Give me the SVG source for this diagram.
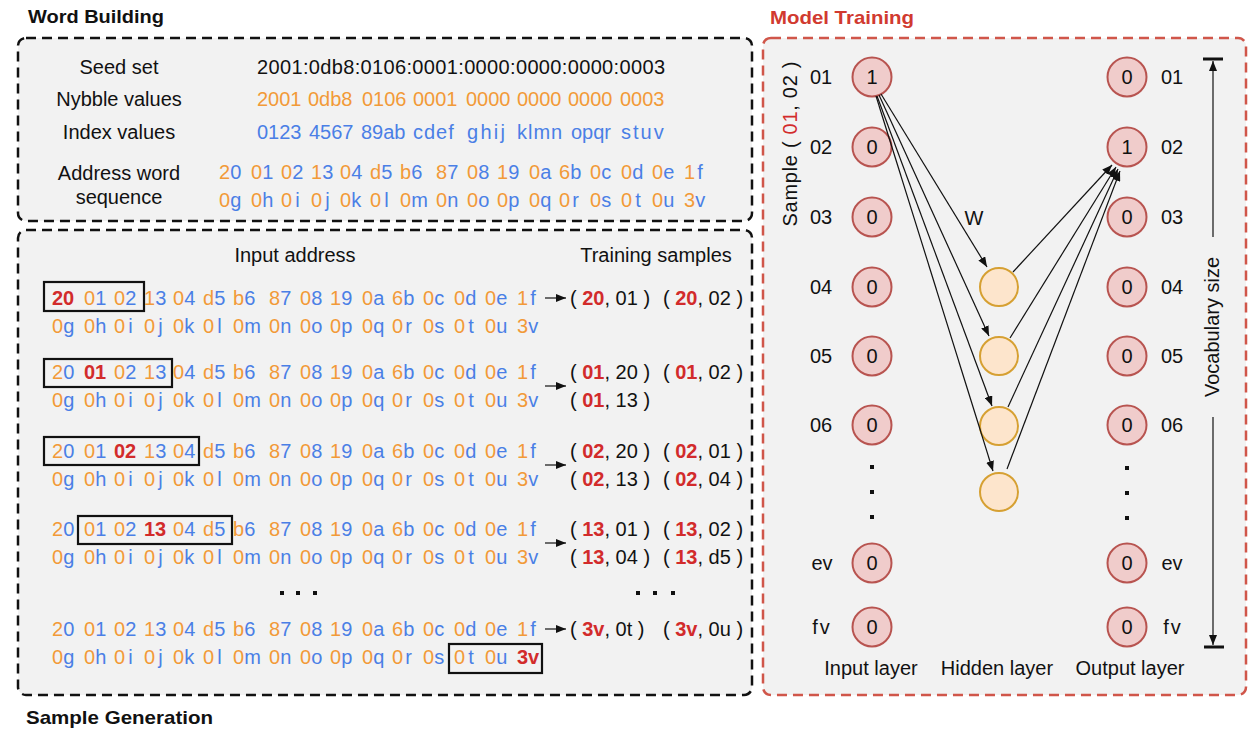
<svg xmlns="http://www.w3.org/2000/svg" width="1251" height="729" viewBox="0 0 1251 729">
<style>
text{font-family:"Liberation Sans",Arial,Helvetica,sans-serif;font-size:20px;fill:#111}
.t{font-weight:bold;font-size:19px}
.o{fill:#f29a38}
.b{fill:#4a7fe6}
.r{fill:#d22b2b;font-weight:bold}
.rr{fill:#d22b2b}
.m{text-anchor:middle}
.panel{fill:#f2f2f2;stroke:#111;stroke-width:2.5;stroke-dasharray:10 6}
.panelr{fill:#f2f2f2;stroke:#d0564a;stroke-width:2.5;stroke-dasharray:10 6}
.box{fill:none;stroke:#111;stroke-width:2.2}
.in{fill:#f0cccb;stroke:#b85450;stroke-width:2}
.hid{fill:#fde5cc;stroke:#d6a032;stroke-width:2}
.edge{stroke:#111;stroke-width:1.2;fill:none;marker-end:url(#ah)}
.dot{fill:#111}
</style>
<defs>
<marker id="ah" viewBox="0 0 10 8" refX="10" refY="4" markerWidth="10" markerHeight="8" markerUnits="userSpaceOnUse" orient="auto"><path d="M0,0 L10,4 L0,8 z" fill="#111"/></marker>
</defs>
<rect width="1251" height="729" fill="#ffffff"/>

<!-- Word Building panel -->
<g id="word-building">
<text class="t" x="28" y="23" textLength="136" lengthAdjust="spacingAndGlyphs">Word Building</text>
<rect class="panel" x="18" y="38" width="734" height="183" rx="8"/>
<text class="m" x="119" y="74">Seed set</text>
<text class="m" x="119" y="106">Nybble values</text>
<text class="m" x="119" y="139">Index values</text>
<text class="m" x="119" y="180">Address word</text>
<text class="m" x="119" y="204">sequence</text>
<text x="257" y="74" textLength="408">2001:0db8:0106:0001:0000:0000:0000:0003</text>
<text class="o" y="106"><tspan x="257">2001</tspan><tspan x="308">0db8</tspan><tspan x="362">0106</tspan><tspan x="413">0001</tspan><tspan x="466">0000</tspan><tspan x="517">0000</tspan><tspan x="568">0000</tspan><tspan x="620">0003</tspan></text>
<text class="b" y="139"><tspan x="257">0123</tspan><tspan x="309">4567</tspan><tspan x="361">89ab</tspan><tspan x="413" letter-spacing="1">cdef</tspan><tspan x="467" letter-spacing="2.3">ghij</tspan><tspan x="517" letter-spacing="1">klmn</tspan><tspan x="571">opqr</tspan><tspan x="621" letter-spacing="2">stuv</tspan></text>
<text y="179"><tspan x="219" class="o">2</tspan><tspan class="b">0</tspan><tspan x="251" class="o">0</tspan><tspan class="b">1</tspan><tspan x="281" class="o">0</tspan><tspan class="b">2</tspan><tspan x="311" class="o">1</tspan><tspan class="b">3</tspan><tspan x="340" class="o">0</tspan><tspan class="b">4</tspan><tspan x="370" class="o">d</tspan><tspan class="b">5</tspan><tspan x="400" class="o">b</tspan><tspan class="b">6</tspan><tspan x="436" class="o">8</tspan><tspan class="b">7</tspan><tspan x="467" class="o">0</tspan><tspan class="b">8</tspan><tspan x="497" class="o">1</tspan><tspan class="b">9</tspan><tspan x="529" class="o">0</tspan><tspan class="b">a</tspan><tspan x="559" class="o">6</tspan><tspan class="b">b</tspan><tspan x="590" class="o">0</tspan><tspan class="b">c</tspan><tspan x="621" class="o">0</tspan><tspan class="b">d</tspan><tspan x="652" class="o">0</tspan><tspan class="b">e</tspan><tspan x="684" class="o">1</tspan><tspan class="b" dx="2">f</tspan></text>
<text y="207"><tspan x="219" class="o">0</tspan><tspan class="b">g</tspan><tspan x="251" class="o">0</tspan><tspan class="b">h</tspan><tspan x="281" class="o">0</tspan><tspan class="b" dx="3">i</tspan><tspan x="311" class="o">0</tspan><tspan class="b" dx="3">j</tspan><tspan x="340" class="o">0</tspan><tspan class="b">k</tspan><tspan x="370" class="o">0</tspan><tspan class="b" dx="3">l</tspan><tspan x="400" class="o">0</tspan><tspan class="b">m</tspan><tspan x="436" class="o">0</tspan><tspan class="b">n</tspan><tspan x="467" class="o">0</tspan><tspan class="b">o</tspan><tspan x="497" class="o">0</tspan><tspan class="b">p</tspan><tspan x="529" class="o">0</tspan><tspan class="b">q</tspan><tspan x="559" class="o">0</tspan><tspan class="b" dx="2">r</tspan><tspan x="590" class="o">0</tspan><tspan class="b">s</tspan><tspan x="621" class="o">0</tspan><tspan class="b" dx="3">t</tspan><tspan x="652" class="o">0</tspan><tspan class="b">u</tspan><tspan x="684" class="o">3</tspan><tspan class="b">v</tspan></text>
</g>

<!-- Sample Generation panel -->
<g id="sample-generation">
<rect class="panel" x="18" y="230" width="734" height="465" rx="8"/>
<text class="t" x="26" y="724" textLength="187" lengthAdjust="spacingAndGlyphs">Sample Generation</text>
<text class="m" x="295" y="262">Input address</text>
<text class="m" x="656" y="262">Training samples</text>

<!-- row 1 -->
<text y="305"><tspan x="52" class="r">20</tspan><tspan x="84" class="o">0</tspan><tspan class="b">1</tspan><tspan x="114" class="o">0</tspan><tspan class="b">2</tspan><tspan x="144" class="o">1</tspan><tspan class="b">3</tspan><tspan x="173" class="o">0</tspan><tspan class="b">4</tspan><tspan x="203" class="o">d</tspan><tspan class="b">5</tspan><tspan x="233" class="o">b</tspan><tspan class="b">6</tspan><tspan x="269" class="o">8</tspan><tspan class="b">7</tspan><tspan x="300" class="o">0</tspan><tspan class="b">8</tspan><tspan x="330" class="o">1</tspan><tspan class="b">9</tspan><tspan x="362" class="o">0</tspan><tspan class="b">a</tspan><tspan x="392" class="o">6</tspan><tspan class="b">b</tspan><tspan x="423" class="o">0</tspan><tspan class="b">c</tspan><tspan x="454" class="o">0</tspan><tspan class="b">d</tspan><tspan x="485" class="o">0</tspan><tspan class="b">e</tspan><tspan x="517" class="o">1</tspan><tspan class="b" dx="2">f</tspan></text>
<text y="333"><tspan x="52" class="o">0</tspan><tspan class="b">g</tspan><tspan x="84" class="o">0</tspan><tspan class="b">h</tspan><tspan x="114" class="o">0</tspan><tspan class="b" dx="3">i</tspan><tspan x="144" class="o">0</tspan><tspan class="b" dx="3">j</tspan><tspan x="173" class="o">0</tspan><tspan class="b">k</tspan><tspan x="203" class="o">0</tspan><tspan class="b" dx="3">l</tspan><tspan x="233" class="o">0</tspan><tspan class="b">m</tspan><tspan x="269" class="o">0</tspan><tspan class="b">n</tspan><tspan x="300" class="o">0</tspan><tspan class="b">o</tspan><tspan x="330" class="o">0</tspan><tspan class="b">p</tspan><tspan x="362" class="o">0</tspan><tspan class="b">q</tspan><tspan x="392" class="o">0</tspan><tspan class="b" dx="2">r</tspan><tspan x="423" class="o">0</tspan><tspan class="b">s</tspan><tspan x="454" class="o">0</tspan><tspan class="b" dx="3">t</tspan><tspan x="485" class="o">0</tspan><tspan class="b">u</tspan><tspan x="517" class="o">3</tspan><tspan class="b">v</tspan></text>
<rect class="box" x="44" y="282" width="100" height="29"/>

<!-- row 2 -->
<text y="379"><tspan x="52" class="o">2</tspan><tspan class="b">0</tspan><tspan x="84" class="r">01</tspan><tspan x="114" class="o">0</tspan><tspan class="b">2</tspan><tspan x="144" class="o">1</tspan><tspan class="b">3</tspan><tspan x="173" class="o">0</tspan><tspan class="b">4</tspan><tspan x="203" class="o">d</tspan><tspan class="b">5</tspan><tspan x="233" class="o">b</tspan><tspan class="b">6</tspan><tspan x="269" class="o">8</tspan><tspan class="b">7</tspan><tspan x="300" class="o">0</tspan><tspan class="b">8</tspan><tspan x="330" class="o">1</tspan><tspan class="b">9</tspan><tspan x="362" class="o">0</tspan><tspan class="b">a</tspan><tspan x="392" class="o">6</tspan><tspan class="b">b</tspan><tspan x="423" class="o">0</tspan><tspan class="b">c</tspan><tspan x="454" class="o">0</tspan><tspan class="b">d</tspan><tspan x="485" class="o">0</tspan><tspan class="b">e</tspan><tspan x="517" class="o">1</tspan><tspan class="b" dx="2">f</tspan></text>
<text y="407"><tspan x="52" class="o">0</tspan><tspan class="b">g</tspan><tspan x="84" class="o">0</tspan><tspan class="b">h</tspan><tspan x="114" class="o">0</tspan><tspan class="b" dx="3">i</tspan><tspan x="144" class="o">0</tspan><tspan class="b" dx="3">j</tspan><tspan x="173" class="o">0</tspan><tspan class="b">k</tspan><tspan x="203" class="o">0</tspan><tspan class="b" dx="3">l</tspan><tspan x="233" class="o">0</tspan><tspan class="b">m</tspan><tspan x="269" class="o">0</tspan><tspan class="b">n</tspan><tspan x="300" class="o">0</tspan><tspan class="b">o</tspan><tspan x="330" class="o">0</tspan><tspan class="b">p</tspan><tspan x="362" class="o">0</tspan><tspan class="b">q</tspan><tspan x="392" class="o">0</tspan><tspan class="b" dx="2">r</tspan><tspan x="423" class="o">0</tspan><tspan class="b">s</tspan><tspan x="454" class="o">0</tspan><tspan class="b" dx="3">t</tspan><tspan x="485" class="o">0</tspan><tspan class="b">u</tspan><tspan x="517" class="o">3</tspan><tspan class="b">v</tspan></text>
<rect class="box" x="44" y="359" width="128" height="28"/>

<!-- row 3 -->
<text y="458"><tspan x="52" class="o">2</tspan><tspan class="b">0</tspan><tspan x="84" class="o">0</tspan><tspan class="b">1</tspan><tspan x="114" class="r">02</tspan><tspan x="144" class="o">1</tspan><tspan class="b">3</tspan><tspan x="173" class="o">0</tspan><tspan class="b">4</tspan><tspan x="203" class="o">d</tspan><tspan class="b">5</tspan><tspan x="233" class="o">b</tspan><tspan class="b">6</tspan><tspan x="269" class="o">8</tspan><tspan class="b">7</tspan><tspan x="300" class="o">0</tspan><tspan class="b">8</tspan><tspan x="330" class="o">1</tspan><tspan class="b">9</tspan><tspan x="362" class="o">0</tspan><tspan class="b">a</tspan><tspan x="392" class="o">6</tspan><tspan class="b">b</tspan><tspan x="423" class="o">0</tspan><tspan class="b">c</tspan><tspan x="454" class="o">0</tspan><tspan class="b">d</tspan><tspan x="485" class="o">0</tspan><tspan class="b">e</tspan><tspan x="517" class="o">1</tspan><tspan class="b" dx="2">f</tspan></text>
<text y="486"><tspan x="52" class="o">0</tspan><tspan class="b">g</tspan><tspan x="84" class="o">0</tspan><tspan class="b">h</tspan><tspan x="114" class="o">0</tspan><tspan class="b" dx="3">i</tspan><tspan x="144" class="o">0</tspan><tspan class="b" dx="3">j</tspan><tspan x="173" class="o">0</tspan><tspan class="b">k</tspan><tspan x="203" class="o">0</tspan><tspan class="b" dx="3">l</tspan><tspan x="233" class="o">0</tspan><tspan class="b">m</tspan><tspan x="269" class="o">0</tspan><tspan class="b">n</tspan><tspan x="300" class="o">0</tspan><tspan class="b">o</tspan><tspan x="330" class="o">0</tspan><tspan class="b">p</tspan><tspan x="362" class="o">0</tspan><tspan class="b">q</tspan><tspan x="392" class="o">0</tspan><tspan class="b" dx="2">r</tspan><tspan x="423" class="o">0</tspan><tspan class="b">s</tspan><tspan x="454" class="o">0</tspan><tspan class="b" dx="3">t</tspan><tspan x="485" class="o">0</tspan><tspan class="b">u</tspan><tspan x="517" class="o">3</tspan><tspan class="b">v</tspan></text>
<rect class="box" x="44" y="437" width="155" height="28"/>

<!-- row 4 -->
<text y="536"><tspan x="52" class="o">2</tspan><tspan class="b">0</tspan><tspan x="84" class="o">0</tspan><tspan class="b">1</tspan><tspan x="114" class="o">0</tspan><tspan class="b">2</tspan><tspan x="144" class="r">13</tspan><tspan x="173" class="o">0</tspan><tspan class="b">4</tspan><tspan x="203" class="o">d</tspan><tspan class="b">5</tspan><tspan x="233" class="o">b</tspan><tspan class="b">6</tspan><tspan x="269" class="o">8</tspan><tspan class="b">7</tspan><tspan x="300" class="o">0</tspan><tspan class="b">8</tspan><tspan x="330" class="o">1</tspan><tspan class="b">9</tspan><tspan x="362" class="o">0</tspan><tspan class="b">a</tspan><tspan x="392" class="o">6</tspan><tspan class="b">b</tspan><tspan x="423" class="o">0</tspan><tspan class="b">c</tspan><tspan x="454" class="o">0</tspan><tspan class="b">d</tspan><tspan x="485" class="o">0</tspan><tspan class="b">e</tspan><tspan x="517" class="o">1</tspan><tspan class="b" dx="2">f</tspan></text>
<text y="564"><tspan x="52" class="o">0</tspan><tspan class="b">g</tspan><tspan x="84" class="o">0</tspan><tspan class="b">h</tspan><tspan x="114" class="o">0</tspan><tspan class="b" dx="3">i</tspan><tspan x="144" class="o">0</tspan><tspan class="b" dx="3">j</tspan><tspan x="173" class="o">0</tspan><tspan class="b">k</tspan><tspan x="203" class="o">0</tspan><tspan class="b" dx="3">l</tspan><tspan x="233" class="o">0</tspan><tspan class="b">m</tspan><tspan x="269" class="o">0</tspan><tspan class="b">n</tspan><tspan x="300" class="o">0</tspan><tspan class="b">o</tspan><tspan x="330" class="o">0</tspan><tspan class="b">p</tspan><tspan x="362" class="o">0</tspan><tspan class="b">q</tspan><tspan x="392" class="o">0</tspan><tspan class="b" dx="2">r</tspan><tspan x="423" class="o">0</tspan><tspan class="b">s</tspan><tspan x="454" class="o">0</tspan><tspan class="b" dx="3">t</tspan><tspan x="485" class="o">0</tspan><tspan class="b">u</tspan><tspan x="517" class="o">3</tspan><tspan class="b">v</tspan></text>
<rect class="box" x="78" y="516" width="154" height="28"/>

<!-- ellipsis -->
<rect class="dot" x="280" y="591" width="4" height="4"/><rect class="dot" x="296" y="591" width="4" height="4"/><rect class="dot" x="313" y="591" width="4" height="4"/>
<rect class="dot" x="636" y="591" width="4" height="4"/><rect class="dot" x="653" y="591" width="4" height="4"/><rect class="dot" x="671" y="591" width="4" height="4"/>

<!-- last row -->
<text y="636"><tspan x="52" class="o">2</tspan><tspan class="b">0</tspan><tspan x="84" class="o">0</tspan><tspan class="b">1</tspan><tspan x="114" class="o">0</tspan><tspan class="b">2</tspan><tspan x="144" class="o">1</tspan><tspan class="b">3</tspan><tspan x="173" class="o">0</tspan><tspan class="b">4</tspan><tspan x="203" class="o">d</tspan><tspan class="b">5</tspan><tspan x="233" class="o">b</tspan><tspan class="b">6</tspan><tspan x="269" class="o">8</tspan><tspan class="b">7</tspan><tspan x="300" class="o">0</tspan><tspan class="b">8</tspan><tspan x="330" class="o">1</tspan><tspan class="b">9</tspan><tspan x="362" class="o">0</tspan><tspan class="b">a</tspan><tspan x="392" class="o">6</tspan><tspan class="b">b</tspan><tspan x="423" class="o">0</tspan><tspan class="b">c</tspan><tspan x="454" class="o">0</tspan><tspan class="b">d</tspan><tspan x="485" class="o">0</tspan><tspan class="b">e</tspan><tspan x="517" class="o">1</tspan><tspan class="b" dx="2">f</tspan></text>
<text y="664"><tspan x="52" class="o">0</tspan><tspan class="b">g</tspan><tspan x="84" class="o">0</tspan><tspan class="b">h</tspan><tspan x="114" class="o">0</tspan><tspan class="b" dx="3">i</tspan><tspan x="144" class="o">0</tspan><tspan class="b" dx="3">j</tspan><tspan x="173" class="o">0</tspan><tspan class="b">k</tspan><tspan x="203" class="o">0</tspan><tspan class="b" dx="3">l</tspan><tspan x="233" class="o">0</tspan><tspan class="b">m</tspan><tspan x="269" class="o">0</tspan><tspan class="b">n</tspan><tspan x="300" class="o">0</tspan><tspan class="b">o</tspan><tspan x="330" class="o">0</tspan><tspan class="b">p</tspan><tspan x="362" class="o">0</tspan><tspan class="b">q</tspan><tspan x="392" class="o">0</tspan><tspan class="b" dx="2">r</tspan><tspan x="423" class="o">0</tspan><tspan class="b">s</tspan><tspan x="454" class="o">0</tspan><tspan class="b" dx="3">t</tspan><tspan x="485" class="o">0</tspan><tspan class="b">u</tspan><tspan x="517" class="r">3v</tspan></text>
<rect class="box" x="449" y="644" width="93" height="29"/>

<!-- training samples -->
<text x="570" y="305">( <tspan class="r">20</tspan>, 01 )</text><text x="663" y="305">( <tspan class="r">20</tspan>, 02 )</text>
<text x="570" y="379">( <tspan class="r">01</tspan>, 20 )</text><text x="663" y="379">( <tspan class="r">01</tspan>, 02 )</text>
<text x="570" y="407">( <tspan class="r">01</tspan>, 13 )</text>
<text x="570" y="458">( <tspan class="r">02</tspan>, 20 )</text><text x="663" y="458">( <tspan class="r">02</tspan>, 01 )</text>
<text x="570" y="486">( <tspan class="r">02</tspan>, 13 )</text><text x="663" y="486">( <tspan class="r">02</tspan>, 04 )</text>
<text x="570" y="536">( <tspan class="r">13</tspan>, 01 )</text><text x="663" y="536">( <tspan class="r">13</tspan>, 02 )</text>
<text x="570" y="564">( <tspan class="r">13</tspan>, 04 )</text><text x="663" y="564">( <tspan class="r">13</tspan>, d5 )</text>
<text x="570" y="636">( <tspan class="r">3v</tspan>, 0t )</text><text x="663" y="636">( <tspan class="r">3v</tspan>, 0u )</text>
</g>

<!-- Model Training panel -->
<g id="model-training">
<text class="t" x="770" y="24" style="fill:#d13a30" textLength="144" lengthAdjust="spacingAndGlyphs">Model Training</text>
<rect class="panelr" x="763" y="38" width="483" height="657" rx="8"/>
<text class="m" transform="translate(797,144) rotate(-90)" textLength="165">Sample ( <tspan class="rr">01</tspan>, 02 )</text>
<text class="m" transform="translate(1219,327) rotate(-90)">Vocabulary size</text>
<text class="m" x="974" y="225">W</text>
<text class="m" x="871" y="675">Input layer</text>
<text class="m" x="997" y="675">Hidden layer</text>
<text class="m" x="1130" y="675">Output layer</text>
<rect class="dot" x="870" y="465" width="4" height="4"/><rect class="dot" x="870" y="490" width="4" height="4"/><rect class="dot" x="870" y="515" width="4" height="4"/>
<rect class="dot" x="1125" y="466" width="4" height="4"/><rect class="dot" x="1125" y="491" width="4" height="4"/><rect class="dot" x="1125" y="516" width="4" height="4"/>
</g>

<g id="input-layer">
<g id="in-01"><text class="m" x="821" y="84">01</text><circle class="in" cx="872" cy="77" r="19.5"/><text class="m" x="872" y="84">1</text></g>
<g id="in-02"><text class="m" x="821" y="154">02</text><circle class="in" cx="872" cy="147" r="19.5"/><text class="m" x="872" y="154">0</text></g>
<g id="in-03"><text class="m" x="821" y="224">03</text><circle class="in" cx="872" cy="217" r="19.5"/><text class="m" x="872" y="224">0</text></g>
<g id="in-04"><text class="m" x="821" y="294">04</text><circle class="in" cx="872" cy="287" r="19.5"/><text class="m" x="872" y="294">0</text></g>
<g id="in-05"><text class="m" x="821" y="363">05</text><circle class="in" cx="872" cy="356" r="19.5"/><text class="m" x="872" y="363">0</text></g>
<g id="in-06"><text class="m" x="821" y="432">06</text><circle class="in" cx="872" cy="425" r="19.5"/><text class="m" x="872" y="432">0</text></g>
<g id="in-ev"><text class="m" x="822" y="570">ev</text><circle class="in" cx="872" cy="563" r="19.5"/><text class="m" x="872" y="570">0</text></g>
<g id="in-fv"><text class="m" x="821" y="634">f<tspan dx="2">v</tspan></text><circle class="in" cx="872" cy="627" r="19.5"/><text class="m" x="872" y="634">0</text></g>
</g>

<g id="hidden-layer">
<g id="h-1"><circle class="hid" cx="999" cy="287" r="19"/></g>
<g id="h-2"><circle class="hid" cx="999" cy="356" r="19"/></g>
<g id="h-3"><circle class="hid" cx="999" cy="426" r="19"/></g>
<g id="h-4"><circle class="hid" cx="999" cy="492" r="19"/></g>
</g>

<g id="output-layer">
<g id="out-01"><circle class="in" cx="1127" cy="77" r="19.5"/><text class="m" x="1127" y="84">0</text><text class="m" x="1172" y="84">01</text></g>
<g id="out-02"><circle class="in" cx="1127" cy="147" r="19.5"/><text class="m" x="1127" y="154">1</text><text class="m" x="1172" y="154">02</text></g>
<g id="out-03"><circle class="in" cx="1127" cy="217" r="19.5"/><text class="m" x="1127" y="224">0</text><text class="m" x="1172" y="224">03</text></g>
<g id="out-04"><circle class="in" cx="1127" cy="287" r="19.5"/><text class="m" x="1127" y="294">0</text><text class="m" x="1172" y="294">04</text></g>
<g id="out-05"><circle class="in" cx="1127" cy="356" r="19.5"/><text class="m" x="1127" y="363">0</text><text class="m" x="1172" y="363">05</text></g>
<g id="out-06"><circle class="in" cx="1127" cy="425" r="19.5"/><text class="m" x="1127" y="432">0</text><text class="m" x="1172" y="432">06</text></g>
<g id="out-ev"><circle class="in" cx="1127" cy="563" r="19.5"/><text class="m" x="1127" y="570">0</text><text class="m" x="1172" y="570">ev</text></g>
<g id="out-fv"><circle class="in" cx="1127" cy="627" r="19.5"/><text class="m" x="1127" y="634">0</text><text class="m" x="1172" y="634">f<tspan dx="2">v</tspan></text></g>
</g>

<g id="connectors">
<line class="edge" x1="545" y1="298" x2="566" y2="298"/>
<line class="edge" x1="545" y1="386" x2="566" y2="386"/>
<line class="edge" x1="545" y1="465" x2="566" y2="465"/>
<line class="edge" x1="545" y1="543" x2="566" y2="543"/>
<line class="edge" x1="545" y1="629" x2="566" y2="629"/>
<line class="edge" x1="881" y1="94" x2="987" y2="267"/>
<line class="edge" x1="879" y1="95" x2="989" y2="336"/>
<line class="edge" x1="877" y1="96" x2="992" y2="406"/>
<line class="edge" x1="876" y1="96" x2="993" y2="471"/>
<line class="edge" x1="1013" y1="272" x2="1112" y2="165"/>
<line class="edge" x1="1010" y1="338" x2="1116" y2="167"/>
<line class="edge" x1="1008" y1="407" x2="1118" y2="169"/>
<line class="edge" x1="1007" y1="469" x2="1120" y2="171"/>
<line class="edge" x1="1213" y1="237" x2="1213" y2="61"/>
<line x1="1203" y1="59" x2="1223" y2="59" stroke="#111" stroke-width="3"/>
<line class="edge" x1="1213" y1="417" x2="1213" y2="645"/>
<line x1="1204" y1="647" x2="1224" y2="647" stroke="#111" stroke-width="3"/>
</g>
</svg>
